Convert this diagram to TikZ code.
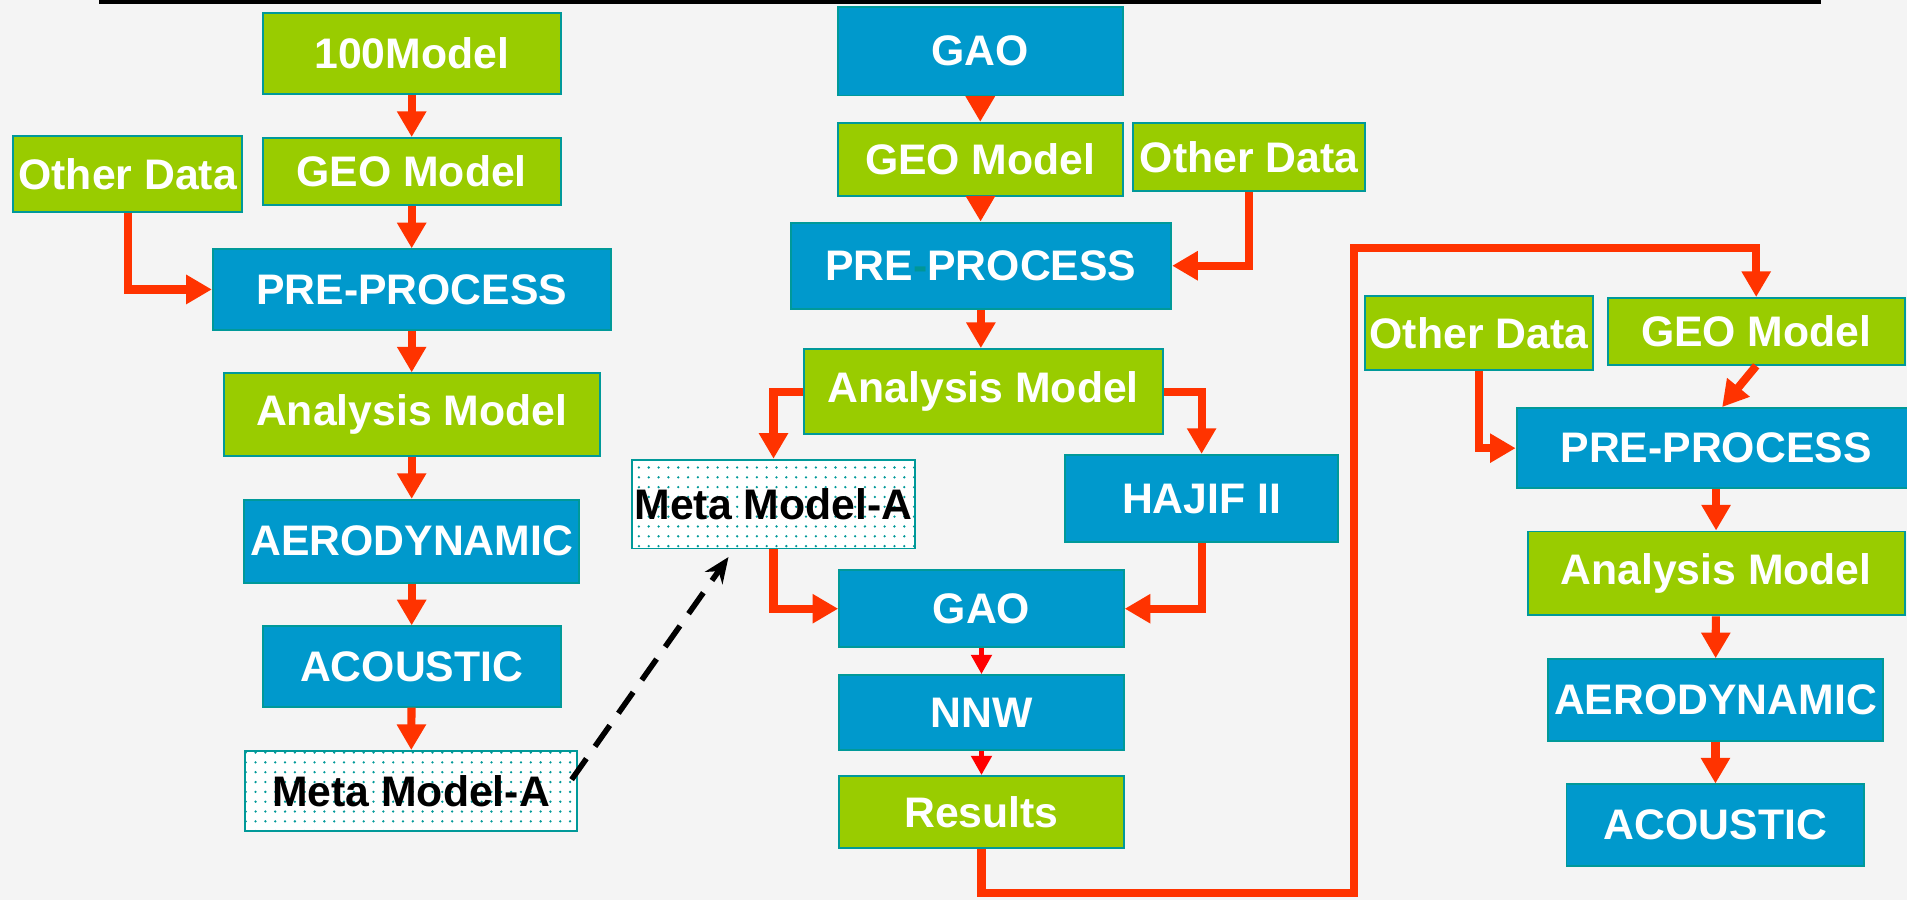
\documentclass[tikz,border=0pt]{standalone}
\usepackage{fontspec}
\setmainfont{Liberation Sans}
\usetikzlibrary{arrows.meta,patterns.meta}
\definecolor{bgc}{RGB}{244,244,244}
\definecolor{gr}{RGB}{153,204,0}
\definecolor{bl}{RGB}{0,153,204}
\definecolor{bd}{RGB}{0,153,153}
\definecolor{rd}{RGB}{255,51,0}
\definecolor{hy}{RGB}{0,150,150}
\begin{document}
\begin{tikzpicture}[x=0.02cm,y=-0.02cm,
  box/.style={draw=bd, line width=0.9pt, inner sep=0pt, font=\fontsize{20}{22}\selectfont\bfseries, text=white},
  gbox/.style={box, fill=gr},
  bbox/.style={box, fill=bl},
  mbox/.style={box, text=black, fill=white, postaction={pattern color=bd, pattern={Dots[radius=0.6pt,distance=4.6pt]}}},
  sz/.style 2 args={minimum width=#1*0.02cm, minimum height=#2*0.02cm},
  arr/.style={draw=rd, line width=3.8pt, -{Triangle[width=13pt,length=12pt]}},
  sarr/.style={draw=red, line width=2pt, -{Triangle[width=9.5pt,length=9pt]}},
  darr/.style={draw=black, line width=2.6pt, dash pattern=on 12pt off 7pt, -{Stealth[length=12pt,width=10pt]}}
]
\fill[bgc] (0,0) rectangle (1568,740);
\useasboundingbox (0,0) rectangle (1568,740);
\fill[black] (81,-1) rectangle (1497,3.4);

% left column
\node[gbox, sz={245}{67}] (L100) at (338.5,44) {100Model};
\node[gbox, sz={245}{55}] (LGEO) at (338.5,141) {GEO Model};
\node[gbox, sz={188}{62}] (LOD) at (105,143) {Other Data};
\node[bbox, sz={327}{66}] (LPRE) at (338.5,238) {PRE-PROCESS};
\node[gbox, sz={309}{68}] (LAM) at (338.5,341) {Analysis Model};
\node[bbox, sz={275}{68}] (LAER) at (338.5,445) {AERODYNAMIC};
\node[bbox, sz={245}{66}] (LACO) at (338.5,548) {ACOUSTIC};
\node[mbox, sz={273}{66}] (LMETA) at (338,650.5) {Meta Model-A};

% middle column
\node[bbox, sz={234}{73}] (MGAO1) at (806,42) {GAO};
\node[gbox, sz={234}{60}] (MGEO) at (806,131) {GEO Model};
\node[gbox, sz={191}{56}] (MOD) at (1027,129) {Other Data};
\node[bbox, sz={313}{71}] (MPRE) at (806.5,218.5) {PRE{\color{hy}-}PROCESS};
\node[gbox, sz={295}{70}] (MAM) at (808.5,322) {Analysis Model};
\node[mbox, sz={232}{73}] (MMETA) at (636,414.5) {Meta Model-A};
\node[bbox, sz={224}{72}] (MHAJ) at (988,410) {HAJIF II};
\node[bbox, sz={234}{63}] (MGAO2) at (807,500.5) {GAO};
\node[bbox, sz={234}{62}] (MNNW) at (807,586) {NNW};
\node[gbox, sz={234}{59}] (MRES) at (807,667.5) {Results};

% right column
\node[gbox, sz={188}{61}] (ROD) at (1216,274) {Other Data};
\node[gbox, sz={244}{55}] (RGEO) at (1444,272.5) {GEO Model};
\node[bbox, sz={328}{66}] (RPRE) at (1411,368.5) {PRE-PROCESS};
\node[gbox, sz={310}{69}] (RAM) at (1411,471.5) {Analysis Model};
\node[bbox, sz={275}{67}] (RAER) at (1410.5,575.5) {AERODYNAMIC};
\node[bbox, sz={245}{67}] (RACO) at (1410.5,678.5) {ACOUSTIC};

% left arrows
\draw[arr] (L100) -- (LGEO);
\draw[arr] (LGEO) -- (LPRE);
\draw[arr] (LOD.south) |- (LPRE.west);
\draw[arr] (LPRE) -- (LAM);
\draw[arr] (LAM) -- (LAER);
\draw[arr] (LAER) -- (LACO);
\draw[arr] (LACO) -- (LMETA);

% dashed
\coordinate (ds) at (470,641);
\coordinate (de) at (599,458);
\draw[darr] (ds) -- (de);

% middle arrows
\draw[arr] (MGAO1) -- (MGEO);
\draw[arr] (MGEO) -- (MPRE);
\draw[arr] (MOD.south) |- (MPRE.east);
\draw[arr] (MPRE.south) -- (MAM.north -| MPRE.south);
\draw[arr] (MAM.west) -| (MMETA.north);
\draw[arr] (MAM.east) -| (MHAJ.north);
\draw[arr] (MMETA.south) |- (MGAO2.west);
\draw[arr] (MHAJ.south) |- (MGAO2.east);
\draw[sarr] (MGAO2) -- (MNNW);
\draw[sarr] (MNNW) -- (MRES);

% loop to right column
\coordinate (lp1) at (1113,734);
\coordinate (lp2) at (1113,204);
\draw[arr] (MRES.south) |- (lp1) -- (lp2) -| (RGEO.north);

% right arrows
\draw[arr] (RGEO.south) -- ([xshift=0.1cm]RPRE.north);
\draw[arr] (ROD.south) |- (RPRE.west);
\draw[arr] (RPRE.south) -- (RAM.north);
\draw[arr] (RAM) -- (RAER);
\draw[arr] (RAER) -- (RACO);
\end{tikzpicture}
\end{document}
